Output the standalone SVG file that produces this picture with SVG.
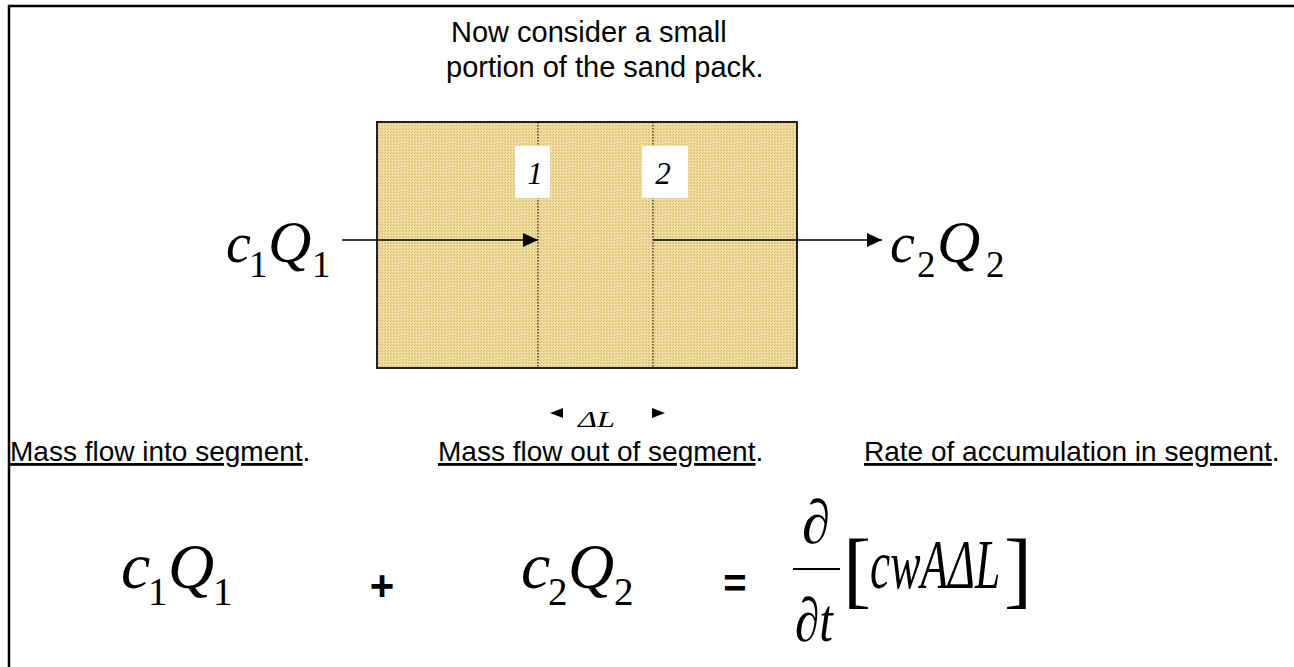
<svg xmlns="http://www.w3.org/2000/svg" width="1294" height="667" viewBox="0 0 1294 667">
<defs>
<pattern id="sand" width="3" height="3" patternUnits="userSpaceOnUse">
<rect width="3" height="3" fill="#EDD898"/>
<rect width="1" height="1" fill="#D8BC78"/>
<rect x="2" y="1" width="1" height="1" fill="#F6E8B8"/>
<rect x="1" y="2" width="1" height="1" fill="#DCC27E"/>
</pattern>
<marker id="arr" viewBox="0 0 15 14" refX="15" refY="7" markerWidth="15" markerHeight="14" markerUnits="userSpaceOnUse" orient="auto">
<path d="M0,0 L15,7 L0,14 z" fill="#000"/>
</marker>
<style>
.sans{font-family:"Liberation Sans",Arial,sans-serif;fill:#000}
.math{font-family:"Liberation Serif","Times New Roman",serif;font-style:italic;fill:#000}
.up{font-style:normal}
.lbl{font-size:28px}
.u{text-decoration:underline}
</style>
</defs>
<rect x="0" y="0" width="1294" height="667" fill="#fff"/>
<rect x="9" y="6" width="1300" height="700" fill="none" stroke="#000" stroke-width="2.5"/>

<g id="title">
<text class="sans" x="451" y="42" font-size="29">Now consider a small</text>
<text class="sans" x="446" y="77" font-size="29">portion of the sand pack.</text>
</g>

<g id="sandpack">
<rect x="377" y="122" width="420" height="246" fill="url(#sand)" stroke="#222" stroke-width="2"/>
<line x1="538" y1="122" x2="538" y2="368" stroke="#000" stroke-width="1" stroke-dasharray="1.5 1.5"/>
<line x1="653" y1="122" x2="653" y2="368" stroke="#000" stroke-width="1" stroke-dasharray="1.5 1.5"/>
</g>

<g id="label1">
<rect x="515" y="146" width="35" height="52" fill="#fff"/>
<text class="math" x="535" y="184" font-size="31" text-anchor="middle">1</text>
</g>
<g id="label2">
<rect x="642" y="146" width="46" height="52" fill="#fff"/>
<text class="math" x="663" y="184" font-size="31" text-anchor="middle">2</text>
</g>

<g id="c1Q1-top">
<text class="math" y="262" font-size="56"><tspan x="226">c</tspan><tspan class="up" font-size="37" x="249" dy="15">1</tspan><tspan x="268" dy="-15" font-size="60">Q</tspan><tspan class="up" font-size="37" x="312" dy="15">1</tspan></text>
</g>
<g id="c2Q2-top">
<text class="math" y="262" font-size="56"><tspan x="890">c</tspan><tspan class="up" font-size="37" x="917" dy="15">2</tspan><tspan x="937" dy="-15" font-size="60">Q</tspan><tspan class="up" font-size="37" x="986" dy="15">2</tspan></text>
</g>

<g id="connectors">
<line x1="342" y1="240" x2="538" y2="240" stroke="#000" stroke-width="1.5" marker-end="url(#arr)"/>
<line x1="653" y1="240" x2="882" y2="240" stroke="#000" stroke-width="1.5" marker-end="url(#arr)"/>
</g>

<g id="deltaL">
<path d="M563,408 L550,413 L563,418 z" fill="#000"/>
<path d="M652,408 L665,413 L652,418 z" fill="#000"/>
<text class="math" x="578" y="427" font-size="23" textLength="37" lengthAdjust="spacingAndGlyphs">ΔL</text>
</g>

<g id="labels">
<text class="sans lbl" x="10" y="461"><tspan class="u">Mass flow into segment</tspan>.</text>
<text class="sans lbl" x="438" y="461"><tspan class="u">Mass flow out of segment</tspan>.</text>
<text class="sans lbl" x="864" y="461"><tspan class="u">Rate of accumulation in segment</tspan>.</text>
</g>

<g id="equation">
<text class="math" y="588" font-size="66"><tspan x="121">c</tspan><tspan class="up" font-size="39" x="148" dy="17">1</tspan><tspan x="168" dy="-17" font-size="64">Q</tspan><tspan class="up" font-size="39" x="213" dy="17">1</tspan></text>
<text class="sans" x="382" y="600" font-size="42" font-weight="bold" text-anchor="middle">+</text>
<text class="math" y="588" font-size="66"><tspan x="521">c</tspan><tspan class="up" font-size="39" x="548" dy="17">2</tspan><tspan x="568" dy="-17" font-size="64">Q</tspan><tspan class="up" font-size="39" x="614" dy="17">2</tspan></text>
<text class="sans" x="735" y="597" font-size="40" font-weight="bold" text-anchor="middle">=</text>
<text class="math" x="802" y="543" font-size="62" textLength="28" lengthAdjust="spacingAndGlyphs">∂</text>
<line x1="793" y1="569" x2="840" y2="569" stroke="#000" stroke-width="2"/>
<text class="math" x="795" y="641" font-size="62" textLength="38" lengthAdjust="spacingAndGlyphs">∂t</text>
<text class="math up" x="843" y="598" font-size="84">[</text>
<text class="math" transform="translate(870,588) scale(0.65,1)" x="0" y="0" font-size="70">cwAΔL</text>
<text class="math up" x="1004" y="598" font-size="84">]</text>
</g>
</svg>
